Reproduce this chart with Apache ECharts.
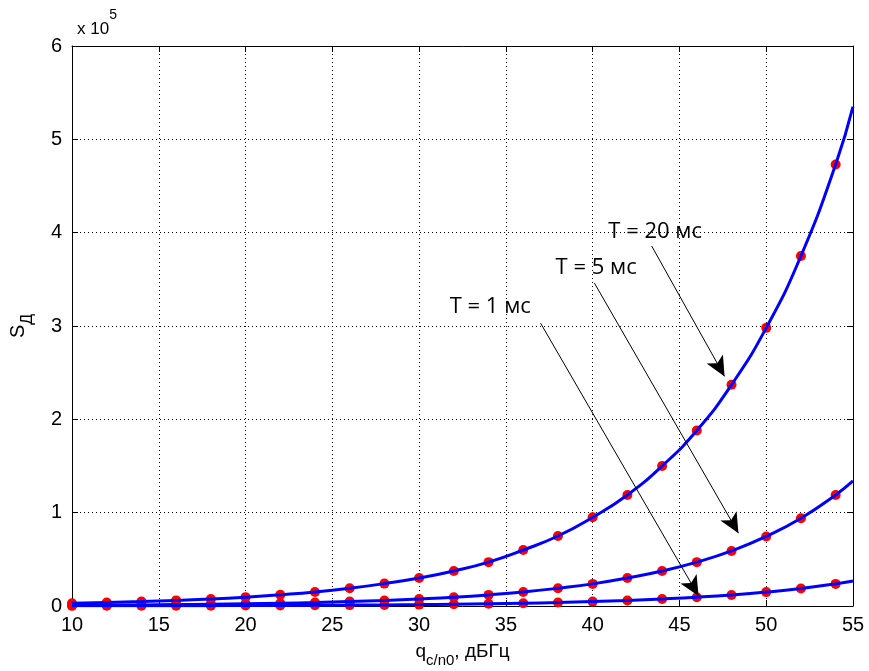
<!DOCTYPE html>
<html>
<head>
<meta charset="utf-8">
<script src="https://cdn.jsdelivr.net/npm/echarts@6/dist/echarts.min.js"></script>
<style>
* { margin: 0; padding: 0; }
body { background: #fff; }
</style>
</head>
<body>
<div id="main" style="width: 869px;height: 671px;background:#fff"></div>
<script>
// q, dBHz (points with markers)
var qValues = [10, 12, 14, 16, 18, 20, 22, 24, 26, 28, 30, 32, 34, 36, 38, 40, 42, 44, 46, 48, 50, 52, 54];
// S values
var s20 = [3000, 3800, 4700, 6000, 7500, 9500, 12000, 15000, 19000, 24000, 30000, 37500, 47000, 60000, 75000, 95000, 119000, 150000, 188000, 237000, 298000, 375000, 473000];
var s5 = [750, 900, 1200, 1500, 1900, 2400, 3000, 3700, 4700, 5900, 7500, 9400, 11900, 15000, 19000, 23700, 30000, 37500, 47000, 59000, 74500, 94000, 119000];
var s1 = [150, 190, 240, 300, 370, 470, 600, 750, 940, 1200, 1500, 1900, 2400, 3000, 3700, 4700, 5900, 7500, 9400, 11800, 14900, 18800, 23700];
// curve end at q = 55
var qEnd = 55;
var endValues = [535000, 134000, 26800];

var yTicks = [0, 1, 2, 3, 4, 5, 6];

// annotations: label position and arrow start/end, in data coordinates
var annotText = ['T = 20 мс', 'T = 5 мс', 'T = 1 мс'];
var annotPos = [[43.6, 400700], [40.2, 362000], [34.1, 321000]];
var arrowFrom = [[43.4, 385700], [40.1, 346000], [37.0, 303000]];
var arrowTo = [[47.6, 246000], [48.4, 78000], [46.1, 10700]];

function pairs(xs, ys) {
  return xs.map(function (x, i) { return [x, ys[i]]; });
}

var curves = [s20, s5, s1];
var series = [];
curves.forEach(function (s, k) {
  series.push({
    type: 'scatter',
    data: pairs(qValues, s),
    symbol: 'circle',
    symbolSize: 10,
    itemStyle: { color: '#ff0000', opacity: 1 },
    z: 2,
    silent: true
  });
  series.push({
    type: 'line',
    data: pairs(qValues, s).concat([[qEnd, endValues[k]]]),
    smooth: true,
    showSymbol: false,
    lineStyle: { color: '#0000ff', width: 3 },
    z: 3,
    silent: true
  });
});

// arrows
series.push({
  type: 'line',
  data: [],
  markLine: {
    silent: true,
    animation: false,
    symbol: ['none', 'arrow'],
    symbolSize: [14, 20],
    label: { show: false },
    lineStyle: { color: '#000', width: 1, type: 'solid' },
    data: arrowFrom.map(function (p, i) {
      return [{ coord: p }, { coord: arrowTo[i] }];
    })
  },
  z: 5
});

// annotation text
series.push({
  type: 'scatter',
  symbolSize: 1,
  itemStyle: { color: 'transparent' },
  silent: true,
  z: 6,
  data: annotPos.map(function (p, i) {
    return { value: p, label: { formatter: annotText[i] } };
  }),
  label: {
    show: true,
    position: 'inside',
    color: '#000',
    opacity: 1,
    textBorderWidth: 0,
    textBorderColor: 'transparent',
    fontFamily: 'Open Sans',
    fontWeight: 500,
    fontSize: 22
  }
});

var axisCommon = {
  type: 'value',
  axisLine: { show: true, onZero: false, lineStyle: { color: '#000', width: 1 } },
  axisTick: { show: true, inside: true, length: 6, lineStyle: { color: '#000' } }
};

var chart = echarts.init(document.getElementById('main'));
chart.setOption({
  animation: false,
  title: {
    text: '{a|x 10}{b|5}',
    left: 72,
    top: 3,
    textStyle: {
      rich: {
        a: { fontFamily: 'Liberation Sans', fontWeight: 'normal', fontSize: 17, color: '#000', lineHeight: 30, verticalAlign: 'bottom' },
        b: { fontFamily: 'Liberation Sans', fontWeight: 'normal', fontSize: 14, color: '#000', lineHeight: 30, verticalAlign: 'top' }
      }
    }
  },
  grid: { left: 72, right: 16, top: 46, bottom: 65, containLabel: false, outerBoundsMode: 'none' },
  xAxis: [
    Object.assign({}, axisCommon, {
      min: 10, max: 55, interval: 5,
      position: 'bottom',
      axisLabel: { color: '#000', fontFamily: 'Liberation Sans', fontSize: 20, margin: 9 },
      splitLine: { show: true, lineStyle: { color: '#000', type: [1, 3], width: 1 } },
      name: '{a|q}{b|c/n0}{a|, дБГц}',
      nameLocation: 'middle',
      nameGap: 36,
      nameTextStyle: {
        rich: {
          a: { fontFamily: 'Liberation Sans', fontSize: 19, color: '#000', lineHeight: 26, verticalAlign: 'top' },
          b: { fontFamily: 'Liberation Sans', fontSize: 15, color: '#000', lineHeight: 26, verticalAlign: 'bottom' }
        }
      }
    }),
    Object.assign({}, axisCommon, {
      min: 10, max: 55, interval: 5,
      position: 'top',
      axisLabel: { show: false },
      splitLine: { show: false }
    })
  ],
  yAxis: [
    Object.assign({}, axisCommon, {
      min: 0, max: 600000, interval: 100000,
      position: 'left',
      axisLabel: {
        color: '#000', fontFamily: 'Liberation Sans', fontSize: 20, margin: 10,
        formatter: function (v) { return yTicks[Math.round(v / 100000)]; }
      },
      splitLine: { show: true, lineStyle: { color: '#000', type: [1, 3], width: 1 } },
      name: '{a|S}{b|Д}',
      nameLocation: 'middle',
      nameRotate: 90,
      nameGap: 36,
      nameTextStyle: {
        rich: {
          a: { fontFamily: 'Liberation Sans', fontSize: 20, color: '#000', lineHeight: 28, verticalAlign: 'top' },
          b: { fontFamily: 'Liberation Sans', fontSize: 16, color: '#000', lineHeight: 28, verticalAlign: 'bottom' }
        }
      }
    }),
    Object.assign({}, axisCommon, {
      min: 0, max: 600000, interval: 100000,
      position: 'right',
      axisLabel: { show: false },
      splitLine: { show: false }
    })
  ],
  series: series
});
</script>
</body>
</html>
